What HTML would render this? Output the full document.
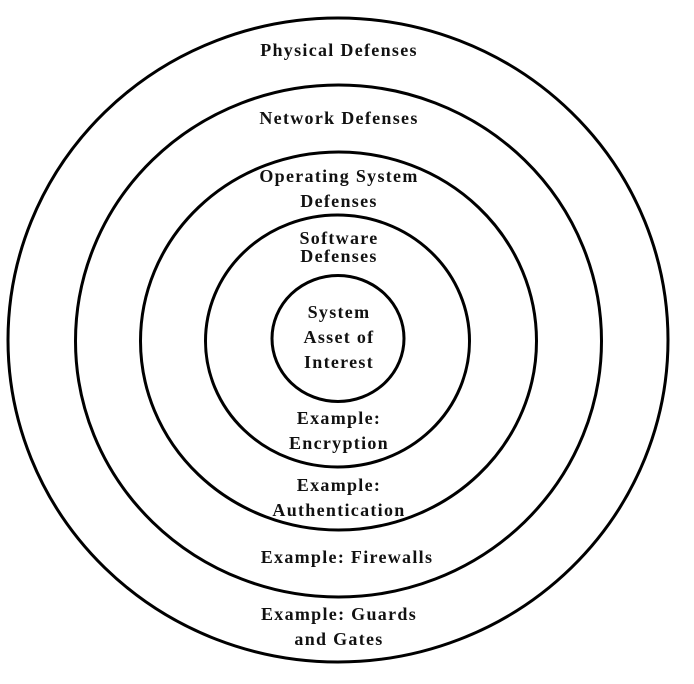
<!DOCTYPE html>
<html><head><style>
html,body{margin:0;padding:0;background:#fff;}
svg{display:block}
text{font-family:"Liberation Serif",serif;font-weight:bold;font-size:18px;letter-spacing:1.3px;fill:#111;text-anchor:middle;}
</style></head><body>
<svg width="694" height="684" viewBox="0 0 694 684">
<g fill="none" stroke="#000" stroke-width="3">
<ellipse cx="338" cy="340" rx="330" ry="322"/>
<ellipse cx="338.5" cy="341" rx="263" ry="256"/>
<ellipse cx="338.5" cy="341" rx="198" ry="189"/>
<ellipse cx="337.5" cy="341" rx="132" ry="126"/>
<ellipse cx="338" cy="338.5" rx="66" ry="63"/>
</g>
<text x="339" y="56">Physical Defenses</text>
<text x="339" y="124">Network Defenses</text>
<text x="339" y="182">Operating System</text>
<text x="339" y="207">Defenses</text>
<text x="339" y="244">Software</text>
<text x="339" y="262">Defenses</text>
<text x="339" y="318">System</text>
<text x="339" y="343">Asset of</text>
<text x="339" y="368">Interest</text>
<text x="339" y="424">Example:</text>
<text x="339" y="449">Encryption</text>
<text x="339" y="491">Example:</text>
<text x="339" y="516">Authentication</text>
<text x="347" y="563">Example: Firewalls</text>
<text x="339" y="620">Example: Guards</text>
<text x="339" y="645">and Gates</text>
</svg>
</body></html>
